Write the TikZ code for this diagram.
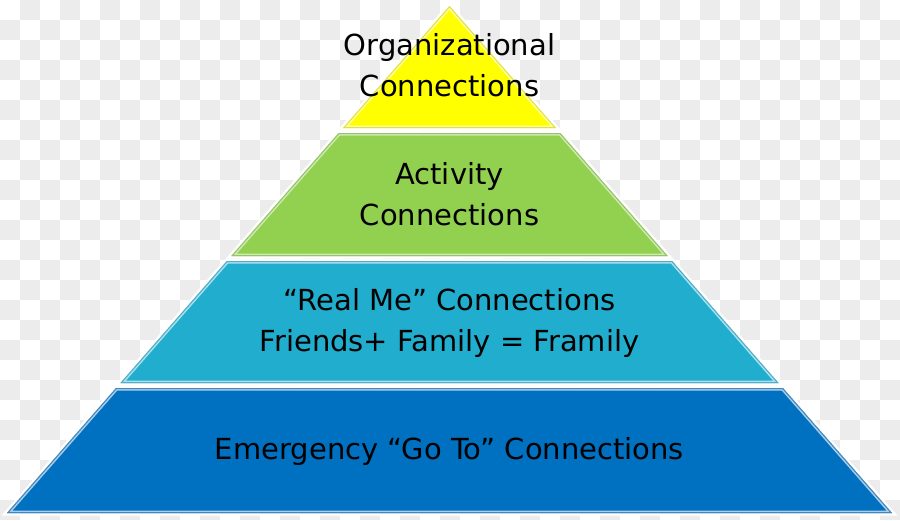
\documentclass[tikz,border=0pt]{standalone}
\usepackage{fontspec}
\setmainfont{DejaVu Sans}
\definecolor{chk}{RGB}{236,236,236}
\definecolor{tyellow}{RGB}{255,255,0}
\definecolor{tyellowl}{RGB}{255,255,170}
\definecolor{tgreen}{RGB}{146,208,80}
\definecolor{tgreenl}{RGB}{205,235,175}
\definecolor{tcyan}{RGB}{33,173,206}
\definecolor{tcyanl}{RGB}{170,225,240}
\definecolor{tblue}{RGB}{0,112,192}
\definecolor{tbluel}{RGB}{170,205,235}
\newcommand{\tierdraw}[3]{%
  \fill[white] #1;
  \draw[white,line width=5pt,line join=miter] #1;
  \fill[#2] #1;
  \begin{scope}
    \clip #1;
    \draw[#3,line width=5pt,line join=miter] #1;
    \draw[#2!80!black!60!#3,line width=2pt,line join=miter] #1;
  \end{scope}}
\begin{document}
\begin{tikzpicture}[x=1pt,y=-1pt,
  lbl/.style={font=\fontsize{29}{41}\selectfont,align=center,text=black,inner sep=0pt}]
\useasboundingbox (0,0) rectangle (900,520);
\fill[white] (0,0) rectangle (900,520);
\foreach \i in {0,...,44}{
  \foreach \j in {0,...,25}{
    \pgfmathparse{int(mod(\i+\j,2))}
    \ifnum\pgfmathresult=1
      \fill[chk] (\i*20,\j*20) rectangle ++(20,20);
    \fi
  }
}
\tierdraw{(7,513) -- (892,513) -- (782.9,388) -- (116.1,388) -- cycle}{tblue}{tbluel}
\tierdraw{(120.5,383) -- (778.5,383) -- (672.1,261) -- (226.9,261) -- cycle}{tcyan}{tcyanl}
\tierdraw{(231.3,256) -- (667.7,256) -- (560.3,133) -- (338.7,133) -- cycle}{tgreen}{tgreenl}
\tierdraw{(343,128) -- (556,128) -- (449.5,6) -- cycle}{tyellow}{tyellowl}
\node[lbl] (t1) at (449.5,65) {Organizational\\Connections};
\node[lbl] (t2) at (449.5,194) {Activity\\Connections};
\node[lbl] (t3) at (449.5,323) {“Real Me” Connections\\Friends+ Family = Framily};
\node[lbl] (t4) at (449.5,451) {Emergency “Go To” Connections};
\end{tikzpicture}
\end{document}
